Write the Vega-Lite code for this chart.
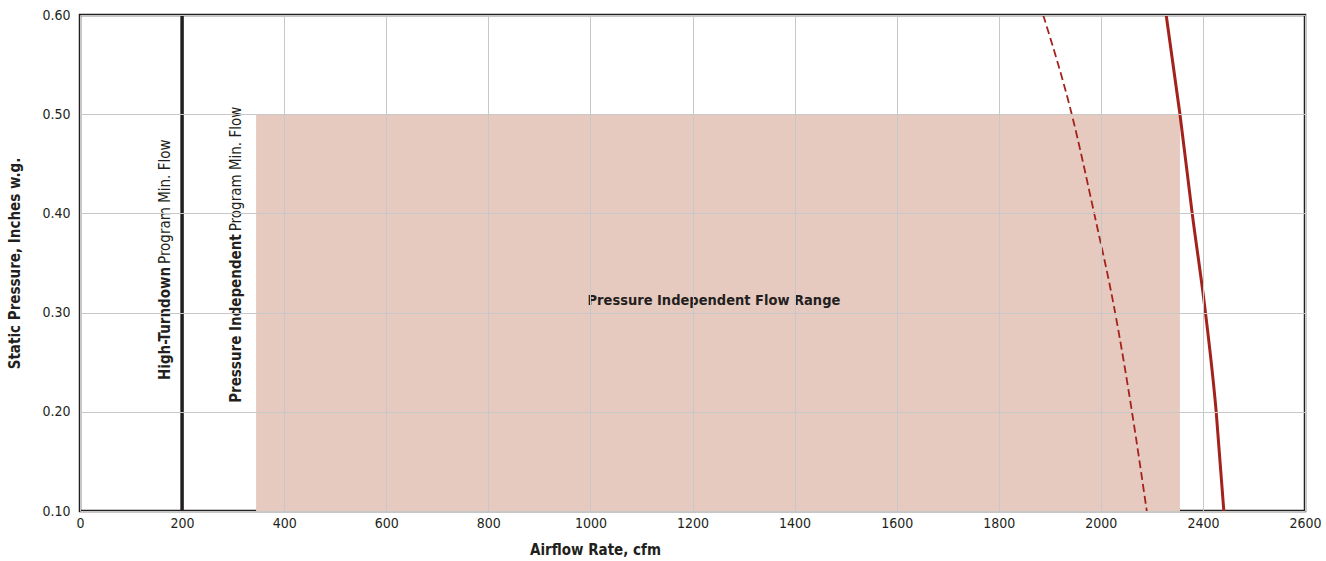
{
  "$schema": "https://vega.github.io/schema/vega-lite/v6.json",
  "width": 1225,
  "height": 496,
  "autosize": {"type": "none"},
  "padding": {"left": 80, "top": 15, "right": 21, "bottom": 50},
  "background": "white",
  "config": {
    "view": {"stroke": "#231f20", "strokeWidth": 2.5},
    "font": "DejaVu Sans Condensed, sans-serif"
  },
  "datasets": {
    "range": [{"x_start": 345, "x_end": 2155, "y_low": 0.1, "y_high": 0.5}],
    "minflow": [{"cfm": 200}],
    "solid": [
      {"cfm": 2128, "sp": 0.6},
      {"cfm": 2155, "sp": 0.5},
      {"cfm": 2179, "sp": 0.4},
      {"cfm": 2205, "sp": 0.3},
      {"cfm": 2226, "sp": 0.2},
      {"cfm": 2241, "sp": 0.1}
    ],
    "dashed": [
      {"cfm": 1887, "sp": 0.6},
      {"cfm": 1943, "sp": 0.5},
      {"cfm": 1987, "sp": 0.4},
      {"cfm": 2028, "sp": 0.3},
      {"cfm": 2061, "sp": 0.2},
      {"cfm": 2090, "sp": 0.1}
    ],
    "center_label": [{"cfm": 1242, "sp": 0.312, "label": "Pressure Independent Flow Range"}],
    "bold_labels": [
      {"cfm": 166, "sp": 0.346, "label": "High-Turndown"},
      {"cfm": 306, "sp": 0.379, "label": "Pressure Independent"}
    ],
    "regular_labels": [
      {"cfm": 166, "sp": 0.349, "label": "Program Min. Flow"},
      {"cfm": 306, "sp": 0.382, "label": "Program Min. Flow"}
    ]
  },
  "layer": [
    {
      "data": {"name": "range"},
      "mark": {"type": "rect", "color": "#e6c9bf"},
      "encoding": {
        "x": {
          "field": "x_start",
          "type": "quantitative",
          "scale": {"domain": [0, 2400], "nice": false, "zero": false},
          "axis": {
            "values": [0, 200, 400, 600, 800, 1000, 1200, 1400, 1600, 1800, 2000, 2200, 2400],
            "labelExpr": "datum.value >= 2200 ? format(datum.value + 200, 'd') : format(datum.value, 'd')",
            "grid": true,
            "gridColor": {"condition": {"test": "datum.value == 200", "value": "transparent"}, "value": "#c8c8c8"},
            "gridWidth": 1,
            "domain": false,
            "ticks": false,
            "labelFlush": false,
            "labelOverlap": false,
            "labelPadding": 5,
            "labelFontSize": 14,
            "labelColor": "#231f20",
            "title": "Airflow Rate, cfm",
            "titleFontSize": 15,
            "titleFontWeight": "bold",
            "titleColor": "#231f20",
            "titleX": 515,
            "titleY": 38,
            "titleBaseline": "middle",
            "zindex": 1
          }
        },
        "x2": {"field": "x_end"},
        "y": {
          "field": "y_low",
          "type": "quantitative",
          "scale": {"domain": [0.1, 0.6], "nice": false, "zero": false},
          "axis": {
            "values": [0.1, 0.2, 0.3, 0.4, 0.5, 0.6],
            "format": ".2f",
            "grid": true,
            "gridColor": "#c8c8c8",
            "gridWidth": 1,
            "domain": false,
            "ticks": false,
            "labelFlush": false,
            "labelOverlap": false,
            "labelPadding": 10,
            "labelFontSize": 14,
            "labelColor": "#231f20",
            "title": "Static Pressure, Inches w.g.",
            "titleFontSize": 15,
            "titleFontWeight": "bold",
            "titleColor": "#231f20",
            "titleX": -66,
            "titleY": 248,
            "titleBaseline": "middle",
            "zindex": 1
          }
        },
        "y2": {"field": "y_high"}
      }
    },
    {
      "data": {"name": "minflow"},
      "mark": {"type": "rule", "color": "#231f20", "strokeWidth": 3.5},
      "encoding": {"x": {"field": "cfm", "type": "quantitative"}}
    },
    {
      "data": {"name": "dashed"},
      "mark": {"type": "line", "color": "#a3231c", "strokeWidth": 1.8, "strokeDash": [8, 4], "interpolate": "monotone"},
      "encoding": {
        "x": {"field": "cfm", "type": "quantitative"},
        "y": {"field": "sp", "type": "quantitative"}
      }
    },
    {
      "data": {"name": "solid"},
      "mark": {"type": "line", "color": "#a3231c", "strokeWidth": 3, "interpolate": "monotone"},
      "encoding": {
        "x": {"field": "cfm", "type": "quantitative"},
        "y": {"field": "sp", "type": "quantitative"}
      }
    },
    {
      "data": {"name": "center_label"},
      "mark": {"type": "text", "fontSize": 14.5, "fontWeight": "bold", "color": "#231f20", "align": "center", "baseline": "middle"},
      "encoding": {
        "x": {"field": "cfm", "type": "quantitative"},
        "y": {"field": "sp", "type": "quantitative"},
        "text": {"field": "label"}
      }
    },
    {
      "data": {"name": "bold_labels"},
      "mark": {"type": "text", "fontSize": 15, "fontWeight": "bold", "color": "#231f20", "angle": 270, "align": "right", "baseline": "middle"},
      "encoding": {
        "x": {"field": "cfm", "type": "quantitative"},
        "y": {"field": "sp", "type": "quantitative"},
        "text": {"field": "label"}
      }
    },
    {
      "data": {"name": "regular_labels"},
      "mark": {"type": "text", "fontSize": 15, "fontWeight": "normal", "color": "#231f20", "angle": 270, "align": "left", "baseline": "middle"},
      "encoding": {
        "x": {"field": "cfm", "type": "quantitative"},
        "y": {"field": "sp", "type": "quantitative"},
        "text": {"field": "label"}
      }
    }
  ]
}
